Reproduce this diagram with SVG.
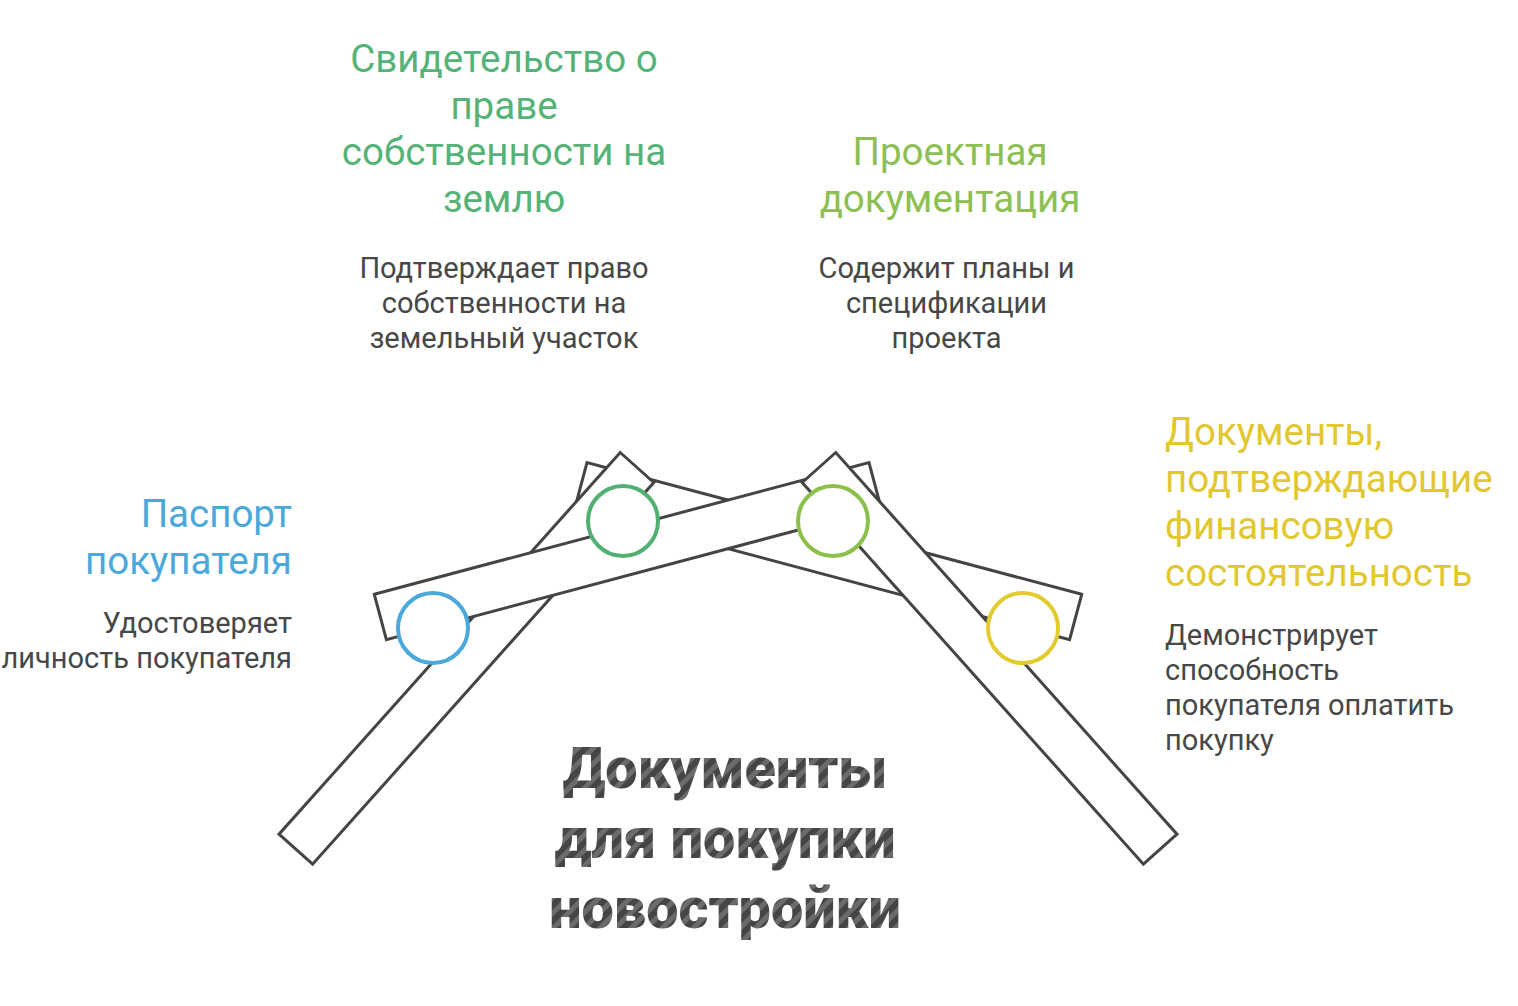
<svg xmlns="http://www.w3.org/2000/svg" width="1518" height="1006" viewBox="0 0 1518 1006">
<defs>
<pattern id="stripes" patternUnits="userSpaceOnUse" width="11" height="11" patternTransform="rotate(45)">
<rect x="0" y="0" width="11" height="11" fill="#454545"/>
<rect x="0" y="0" width="5" height="11" fill="#6b6b6b"/>
</pattern>
<style>
.beam{fill:#ffffff;stroke:#444444;stroke-width:3;stroke-linejoin:miter}
.ring{fill:#ffffff;stroke-width:4}
.h{font-family:Roboto,"Liberation Sans",sans-serif;font-size:38.5px}
.d{font-family:Roboto,"Liberation Sans",sans-serif;font-size:29px;fill:#474747}
.t{font-family:Roboto,"Liberation Sans",sans-serif;font-size:57.5px;font-weight:900;fill:url(#stripes);text-anchor:middle}
.c{text-anchor:middle}
.r{text-anchor:end}
</style>
</defs>
<rect width="1518" height="1006" fill="#ffffff"/>
<g id="connectors">
<polygon id="beam-d" class="beam" points="1081.7,594.3 587,462.5 574.9,507.9 1069.6,639.7"/>
<polygon id="beam-a" class="beam" points="620.2,452.5 653.8,482.5 312.6,864.2 279,834.2"/>
<polygon id="beam-b" class="beam" points="374.3,594.3 869,462.5 881.1,507.9 386.4,639.7"/>
<polygon id="beam-c" class="beam" points="835.8,452.5 802.2,482.5 1143.4,864.2 1177,834.2"/>
</g>
<g id="node-passport">
<circle class="ring" cx="433" cy="628" r="35" stroke="#4ba8db"/>
<text class="h r" fill="#4ba8db"><tspan x="292" y="527">Паспорт</tspan><tspan x="292" y="574">покупателя</tspan></text>
<text class="d r"><tspan x="292" y="633">Удостоверяет</tspan><tspan x="292" y="668">личность покупателя</tspan></text>
</g>
<g id="node-land">
<circle class="ring" cx="623" cy="521" r="35" stroke="#52b073"/>
<text class="h c" fill="#55b378"><tspan x="504" y="72">Свидетельство о</tspan><tspan x="504" y="119">праве</tspan><tspan x="504" y="165">собственности на</tspan><tspan x="504" y="212">землю</tspan></text>
<text class="d c"><tspan x="504" y="278">Подтверждает право</tspan><tspan x="504" y="313">собственности на</tspan><tspan x="504" y="348">земельный участок</tspan></text>
</g>
<g id="node-project">
<circle class="ring" cx="833" cy="521" r="35" stroke="#8dc04a"/>
<text class="h c" fill="#8dc052"><tspan x="950" y="165">Проектная</tspan><tspan x="950" y="212">документация</tspan></text>
<text class="d c"><tspan x="946.5" y="278">Содержит планы и</tspan><tspan x="946.5" y="313">спецификации</tspan><tspan x="946.5" y="348">проекта</tspan></text>
</g>
<g id="node-finance">
<circle class="ring" cx="1023" cy="628" r="35" stroke="#e3cb2e"/>
<text class="h" fill="#e2c730"><tspan x="1165" y="445">Документы,</tspan><tspan x="1165" y="492">подтверждающие</tspan><tspan x="1165" y="539">финансовую</tspan><tspan x="1165" y="586">состоятельность</tspan></text>
<text class="d"><tspan x="1165" y="645">Демонстрирует</tspan><tspan x="1165" y="680">способность</tspan><tspan x="1165" y="715">покупателя оплатить</tspan><tspan x="1165" y="750">покупку</tspan></text>
</g>
<g id="title">
<text class="t"><tspan x="725" y="788">Документы</tspan><tspan x="725" y="858">для покупки</tspan><tspan x="725" y="928">новостройки</tspan></text>
</g>
</svg>
